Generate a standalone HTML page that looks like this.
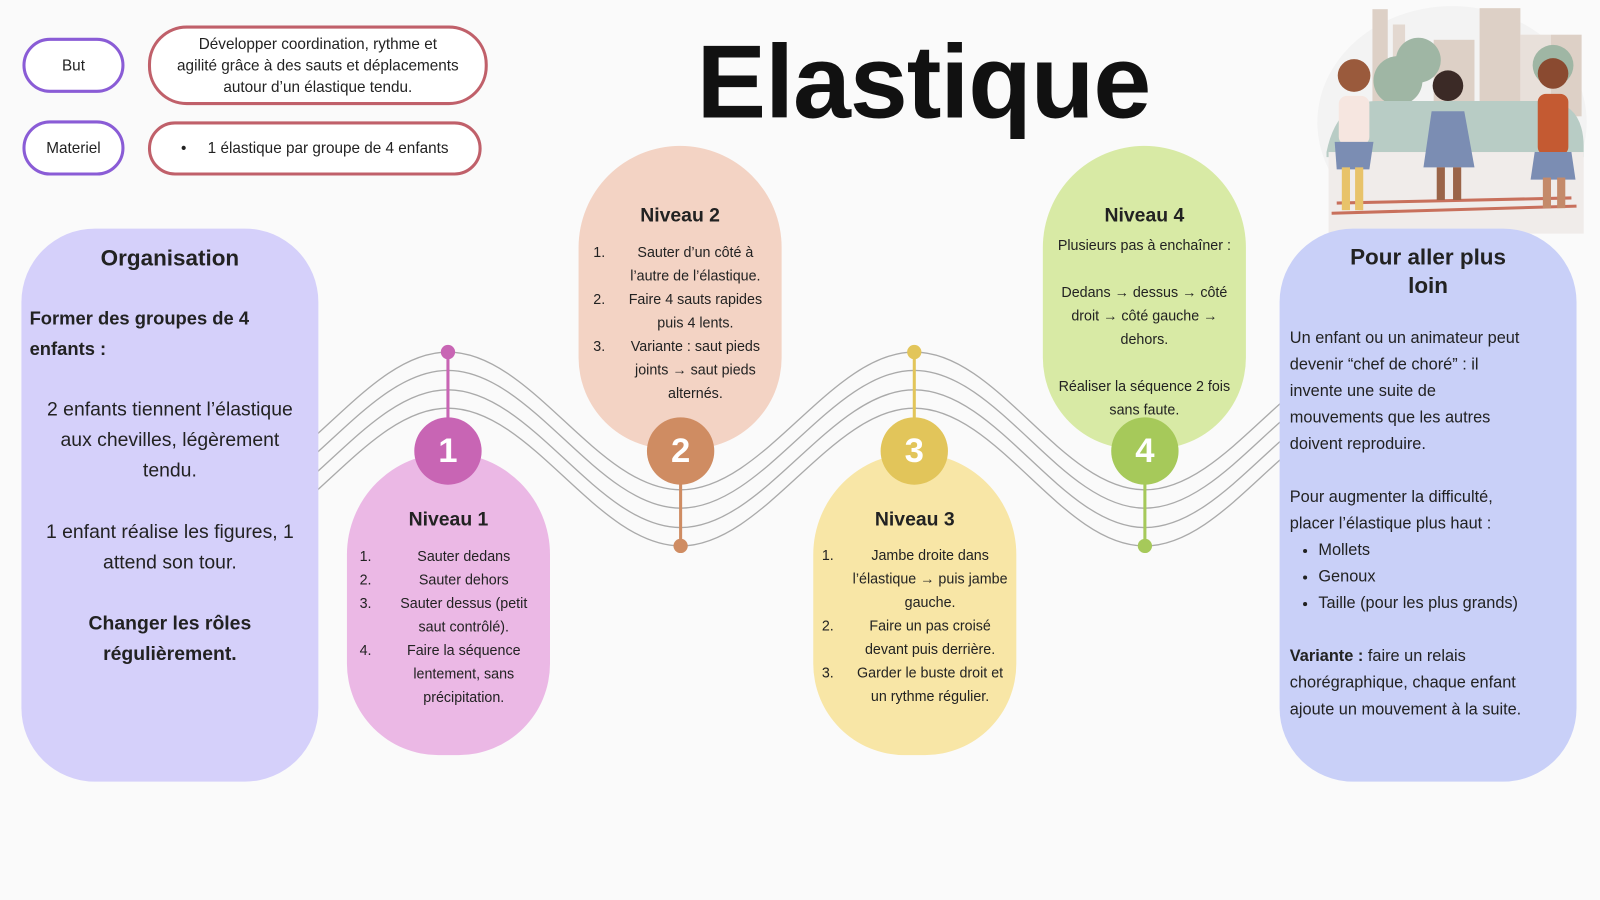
<!DOCTYPE html>
<html><head><meta charset="utf-8"><style>
*{margin:0;padding:0;box-sizing:border-box}
html,body{width:1600px;height:900px;overflow:hidden;background:#fafafa}
#w{position:absolute;left:0;top:0;width:1568px;height:882px;transform:scale(1.0204);transform-origin:0 0;font-family:"Liberation Sans",sans-serif;color:#222}
.a{position:absolute}
.pill{border:3px solid #8a5cd6;border-radius:28px;display:flex;align-items:center;justify-content:center;font-size:15px;background:#fff}
.rb{border:3px solid #c0606a;border-radius:38px;display:flex;align-items:center;justify-content:center;text-align:center;font-size:15px;line-height:21px;background:#fff;white-space:nowrap}
.box{text-align:center;font-size:14px;line-height:23px;white-space:nowrap}
.box h3{font-size:19px;margin-bottom:10px}
ol{text-align:left;padding-left:20px}
ol li{padding-left:10px;text-align:center}
.c{position:absolute;width:66px;height:66px;border-radius:50%;color:#fff;font-weight:bold;font-size:34px;display:flex;align-items:center;justify-content:center}
.dot{position:absolute;width:14px;height:14px;border-radius:50%}
</style></head><body><div id="w">
<svg class="a" style="left:0;top:0" width="1568" height="882">
<g fill="none" stroke="#aaa" stroke-width="1.3">
<path id="p" d="M211 480 C293 480 357 345 439 345 C521 345 585 480 667 480 C749 480 814 345 896 345 C978 345 1040 480 1122 480 C1204 480 1268 345 1350 345"/>
<use href="#p" y="18"/><use href="#p" y="37"/><use href="#p" y="55"/>
</g>
<line x1="439" y1="345" x2="439" y2="420" stroke="#c865b4" stroke-width="3"/>
<line x1="667" y1="460" x2="667" y2="535" stroke="#cf8c62" stroke-width="3"/>
<line x1="896" y1="345" x2="896" y2="420" stroke="#e2c55a" stroke-width="3"/>
<line x1="1122" y1="460" x2="1122" y2="535" stroke="#a6c95a" stroke-width="3"/>
</svg>
<div class="dot" style="left:432px;top:338px;background:#c865b4"></div>
<div class="dot" style="left:660px;top:528px;background:#cf8c62"></div>
<div class="dot" style="left:889px;top:338px;background:#e2c55a"></div>
<div class="dot" style="left:1115px;top:528px;background:#a6c95a"></div>

<div class="a pill" style="left:22px;top:37px;width:100px;height:54px">But</div>
<div class="a rb" style="left:145px;top:25px;width:333px;height:78px">Développer coordination, rythme et<br>agilité grâce à des sauts et déplacements<br>autour d’un élastique tendu.</div>
<div class="a pill" style="left:22px;top:118px;width:100px;height:54px">Materiel</div>
<div class="a rb" style="left:145px;top:119px;width:327px;height:53px">•&nbsp;&nbsp;&nbsp;&nbsp;&nbsp;1 élastique par groupe de 4 enfants</div>

<div class="a" style="left:660px;top:22px;width:490px;text-align:center;font-weight:bold;font-size:102px;color:#111;letter-spacing:-1px">Elastique</div>

<svg class="a" style="left:1290px;top:4px" width="266" height="232">
<ellipse cx="133" cy="116" rx="132" ry="114" fill="#f3f3f3"/>
<rect x="55" y="5" width="15" height="120" fill="#ddd0c6"/><rect x="75" y="20" width="12" height="100" fill="#e3d8d0"/>
<rect x="160" y="4" width="40" height="100" fill="#ddd0c6"/><rect x="200" y="30" width="30" height="80" fill="#e8e0da"/><rect x="230" y="30" width="30" height="80" fill="#ddd0c6"/>
<rect x="115" y="35" width="40" height="70" fill="#ddd0c6"/>
<circle cx="100" cy="55" r="22" fill="#9fb6a4"/><circle cx="80" cy="75" r="24" fill="#9fb6a4"/><circle cx="232" cy="60" r="20" fill="#9fb6a4"/>
<path d="M10 145 Q20 95 60 95 L230 95 Q262 100 262 140 L262 150 L10 150Z" fill="#b8ccc5"/>
<rect x="12" y="145" width="250" height="80" fill="#f0ecea"/>
<line x1="20" y1="195" x2="250" y2="190" stroke="#c8705c" stroke-width="3"/>
<line x1="15" y1="205" x2="255" y2="198" stroke="#c8705c" stroke-width="3"/>
<circle cx="37" cy="70" r="16" fill="#9a5a3c"/><rect x="22" y="90" width="30" height="48" rx="8" fill="#f6e6e0"/><path d="M18 135 L56 135 L52 162 L20 162Z" fill="#7b8db3"/><rect x="25" y="160" width="8" height="42" fill="#e8c36a"/><rect x="38" y="160" width="8" height="42" fill="#e8c36a"/>
<circle cx="129" cy="80" r="15" fill="#3b2a26"/><path d="M113 105 L145 105 L155 160 L105 160Z" fill="#7b8db3"/><rect x="118" y="160" width="8" height="32" fill="#9a6448"/><rect x="134" y="160" width="8" height="32" fill="#9a6448"/>
<circle cx="232" cy="68" r="15" fill="#8a4a30"/><rect x="217" y="88" width="30" height="60" rx="8" fill="#c45a32"/><path d="M214 145 L250 145 L254 172 L210 172Z" fill="#7b8db3"/><rect x="222" y="170" width="8" height="30" fill="#c48a6a"/><rect x="236" y="170" width="8" height="30" fill="#c48a6a"/>
</svg>

<div class="a" style="left:21px;top:224px;width:291px;height:542px;background:#d5d0fa;border-radius:72px;font-size:19px;line-height:30px;padding:14px 8px;white-space:nowrap">
<div style="text-align:center;font-weight:bold;font-size:22px;margin-bottom:29px">Organisation</div>
<div style="font-weight:bold;font-size:18px">Former des groupes de 4<br>enfants :</div>
<div style="text-align:center;margin-top:30px">2 enfants tiennent l’élastique<br>aux chevilles, légèrement<br>tendu.<br><br>1 enfant réalise les figures, 1<br>attend son tour.<br><br><b>Changer les rôles<br>régulièrement.</b></div>
</div>

<div class="a box" style="left:340px;top:444px;width:199px;height:296px;background:#ebb8e5;border-radius:100px 100px 90px 90px;padding:54px 8px 0 8px">
<h3 style="margin-bottom:13px">Niveau 1</h3>
<ol><li>Sauter dedans</li><li>Sauter dehors</li><li>Sauter dessus (petit<br>saut contrôlé).</li><li>Faire la séquence<br>lentement, sans<br>précipitation.</li></ol></div>
<div class="a box" style="left:567px;top:143px;width:199px;height:297px;background:#f3d3c4;border-radius:100px 100px 90px 90px;padding:57px 10px 0 10px">
<h3 style="margin-bottom:13px">Niveau 2</h3>
<ol><li>Sauter d’un côté à<br>l’autre de l’élastique.</li><li>Faire 4 sauts rapides<br>puis 4 lents.</li><li>Variante : saut pieds<br>joints → saut pieds<br>alternés.</li></ol></div>
<div class="a box" style="left:797px;top:444px;width:199px;height:296px;background:#f8e6a6;border-radius:100px 100px 90px 90px;padding:54px 4px 0 4px">
<h3 style="margin-bottom:12px">Niveau 3</h3>
<ol><li>Jambe droite dans<br>l’élastique → puis jambe<br>gauche.</li><li>Faire un pas croisé<br>devant puis derrière.</li><li>Garder le buste droit et<br>un rythme régulier.</li></ol></div>
<div class="a box" style="left:1022px;top:143px;width:199px;height:297px;background:#d8eaa5;border-radius:100px 100px 90px 90px;padding:57px 2px 0 2px">
<h3 style="margin-bottom:6px">Niveau 4</h3>
Plusieurs pas à enchaîner :<br><br>Dedans → dessus → côté<br>droit → côté gauche →<br>dehors.<br><br>Réaliser la séquence 2 fois<br>sans faute.</div>

<div class="c" style="left:406px;top:409px;background:#c865b4">1</div>
<div class="c" style="left:634px;top:409px;background:#cf8c62">2</div>
<div class="c" style="left:863px;top:409px;background:#e2c55a">3</div>
<div class="c" style="left:1089px;top:409px;background:#a6c95a">4</div>

<div class="a" style="left:1254px;top:224px;width:291px;height:542px;background:#c9d0f8;border-radius:72px;font-size:16px;line-height:26px;padding:14px 10px;white-space:nowrap">
<div style="text-align:center;font-weight:bold;font-size:22px;line-height:28px;margin-bottom:25px">Pour aller plus<br>loin</div>
Un enfant ou un animateur peut<br>devenir “chef de choré” : il<br>invente une suite de<br>mouvements que les autres<br>doivent reproduire.<br><br>Pour augmenter la difficulté,<br>placer l’élastique plus haut :
<ul style="padding-left:28px"><li>Mollets</li><li>Genoux</li><li>Taille (pour les plus grands)</li></ul><br>
<b>Variante :</b> faire un relais<br>chorégraphique, chaque enfant<br>ajoute un mouvement à la suite.</div>
</div></body></html>
